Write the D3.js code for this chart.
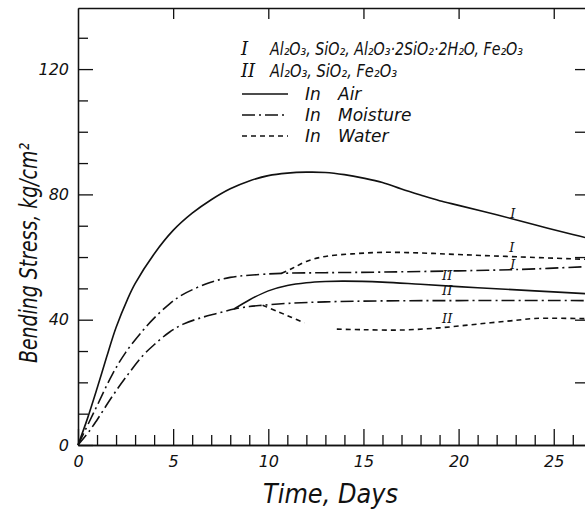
<!DOCTYPE html>
<html>
<head>
<meta charset="utf-8">
<script src="https://cdn.jsdelivr.net/npm/d3@7"></script>
<style>
  body { margin: 0; background: #fff; }
  svg text { font-family: "DejaVu Sans", sans-serif; font-style: italic; fill: #111; }
  .roman { font-family: "DejaVu Serif", "Liberation Serif", serif; }
  .axis path, .axis line { stroke: #111; stroke-width: 1.3; }
</style>
</head>
<body>
<svg width="585" height="516"></svg>
<script>
// [day, stress kg/cm2]
const airI = [[0,0],[0.5,8.5],[1,18],[1.5,28],[2,37.5],[2.6,46.5],[3,51.5],[4,61],[5,68.5],[6,74],[7,78.3],[8,81.8],[9,84.3],[10,86],[11,86.8],[12,87.1],[13,87],[14,86.3],[15,85.2],[16,83.8],[17,81.7],[18,79.8],[19,78],[20,76.5],[22,73.5],[24,70.3],[26,67.2],[27,65.7]];
const moistI = [[0,0],[0.6,7.5],[1,12.5],[1.8,22.5],[2.5,29.5],[3.4,36.5],[4,40.5],[4.8,45],[5.5,48],[6.9,51.8],[8,53.5],[9,54.2],[10.7,54.8],[13,55],[16,55.2],[20,55.6],[23,56],[27,57]];
const waterI = [[10.7,54.8],[11.3,56.5],[12,58.6],[13,60.2],[14.4,61],[16,61.5],[18,61.3],[20,60.8],[22.5,60.2],[27,59.2]];
const moistII = [[0,0],[0.6,4.5],[1,8],[1.8,15.5],[2.5,21.5],[3.4,28.5],[4,32],[4.8,36],[5.5,38.5],[6.4,40.5],[7.3,42],[8.2,43.4],[9,44.2],[9.7,44.6],[11,45.2],[13,45.7],[16,46],[20,46.1],[27,46.1]];
const airII = [[8.2,43.4],[9,46.3],[10,49.2],[11,50.9],[12,51.8],[13,52.2],[14,52.3],[16,52],[18,51.3],[21,50.2],[24,49.2],[27,48.2]];
// null marks the break in the curve
const waterII = [[9.7,44.6],[10.5,42.6],[11.2,40.8],[11.9,39],[12.7,null],[13.6,37],[15,36.8],[17,36.7],[19,37.4],[21,38.6],[23,39.8],[24,40.4],[27,40.3]];

const xMajor = [0, 5, 10, 15, 20, 25];
const yMajor = [0, 40, 80, 120];
const curveLabels = [
  { text: "I", day: 22.85, val: 74.0 },
  { text: "I", day: 22.8, val: 62.9 },
  { text: "I", day: 22.85, val: 57.5 },
  { text: "II", day: 19.4, val: 54.0 },
  { text: "II", day: 19.4, val: 49.3 },
  { text: "II", day: 19.4, val: 40.5 }
];
const legendMaterials = [
  ["I", "Al₂O₃, SiO₂, Al₂O₃·2SiO₂·2H₂O, Fe₂O₃"],
  ["II", "Al₂O₃, SiO₂, Fe₂O₃"]
];
const legendMedia = ["Air", "Moisture", "Water"];

const dashes = { air: null, moisture: "13,4,2,4", water: "5,4" };
const series = [
  { data: airI, kind: "air" },
  { data: moistI, kind: "moisture" },
  { data: waterI, kind: "water" },
  { data: moistII, kind: "moisture" },
  { data: airII, kind: "air" },
  { data: waterII, kind: "water" }
];

const svg = d3.select("svg");
const x = d3.scaleLinear().domain([0, 26.8]).range([78, 588]);
const y = d3.scaleLinear().domain([0, 139.5]).range([445, 8]);

// bottom axis: day ticks pointing up
svg.append("g").attr("class", "axis")
  .attr("transform", `translate(0,${y(0)})`)
  .call(d3.axisBottom(x).tickValues(d3.range(1, 27).filter(d => d % 5)).tickSizeInner(-10).tickSizeOuter(0).tickFormat(""));
svg.append("g").attr("class", "axis")
  .attr("transform", `translate(0,${y(0)})`)
  .call(d3.axisBottom(x).tickValues(xMajor).tickSizeInner(-16).tickSizeOuter(0).tickPadding(11))
  .call(g => g.selectAll("text").attr("font-size", 16).attr("font-family", null));

// left axis
svg.append("g").attr("class", "axis")
  .attr("transform", `translate(${x(0)},0)`)
  .call(d3.axisLeft(y).tickValues(d3.range(10, 140, 10).filter(d => d % 40)).tickSizeInner(-10).tickSizeOuter(0).tickFormat(""));
svg.append("g").attr("class", "axis")
  .attr("transform", `translate(${x(0)},0)`)
  .call(d3.axisLeft(y).tickValues(yMajor).tickSizeInner(-15).tickSizeOuter(0).tickPadding(9))
  .call(g => g.selectAll("text").attr("font-size", 16).attr("font-family", null));

// top and right frame ticks
svg.append("g").attr("class", "axis")
  .attr("transform", `translate(0,${y(139.5)})`)
  .call(d3.axisTop(x).tickValues(xMajor.slice(1)).tickSizeInner(-11).tickSizeOuter(0).tickFormat(""));
svg.append("g").attr("class", "axis")
  .attr("transform", `translate(${x(26.8)},0)`)
  .call(d3.axisLeft(y).tickValues(d3.range(20, 140, 20)).tickSizeInner(13).tickSizeOuter(0).tickFormat(""));

// curves
const line = d3.line()
  .defined(d => d[1] !== null)
  .x(d => x(d[0])).y(d => y(d[1]))
  .curve(d3.curveCatmullRom.alpha(0.5));

svg.append("g").selectAll("path").data(series).join("path")
  .attr("d", d => line(d.data))
  .attr("fill", "none")
  .attr("stroke", "#111")
  .attr("stroke-width", 1.6)
  .attr("stroke-dasharray", d => dashes[d.kind]);

svg.append("g").selectAll("text").data(curveLabels).join("text")
  .attr("class", "roman")
  .attr("x", d => x(d.day)).attr("y", d => y(d.val))
  .attr("text-anchor", "middle").attr("dominant-baseline", "central")
  .attr("font-size", 13)
  .text(d => d.text);

// legend
const lg = svg.append("g");
legendMaterials.forEach(([num, txt], i) => {
  const by = 55 + i * 22;
  lg.append("text").attr("class", "roman").attr("x", 241).attr("y", by).attr("font-size", 18).text(num);
  lg.append("text").attr("x", 270).attr("y", by).attr("font-size", 17)
    .attr("textLength", i === 0 ? 253 : 127).attr("lengthAdjust", "spacingAndGlyphs").text(txt);
});
legendMedia.forEach((m, i) => {
  const ly = 94 + i * 21;
  lg.append("line").attr("x1", 242).attr("x2", 288).attr("y1", ly).attr("y2", ly)
    .attr("stroke", "#111").attr("stroke-width", 1.6)
    .attr("stroke-dasharray", dashes[["air", "moisture", "water"][i]]);
  lg.append("text").attr("x", 305).attr("y", ly + 6).attr("font-size", 17).text("In");
  lg.append("text").attr("x", 338).attr("y", ly + 6).attr("font-size", 17).text(m);
});

// axis titles
svg.append("text").attr("x", 263).attr("y", 503).attr("font-size", 26)
  .attr("textLength", 135).attr("lengthAdjust", "spacingAndGlyphs").text("Time, Days");
svg.append("text").attr("transform", "translate(37,363) rotate(-90)").attr("font-size", 25)
  .attr("textLength", 220).attr("lengthAdjust", "spacingAndGlyphs").text("Bending Stress, kg/cm²");
</script>
</body>
</html>
